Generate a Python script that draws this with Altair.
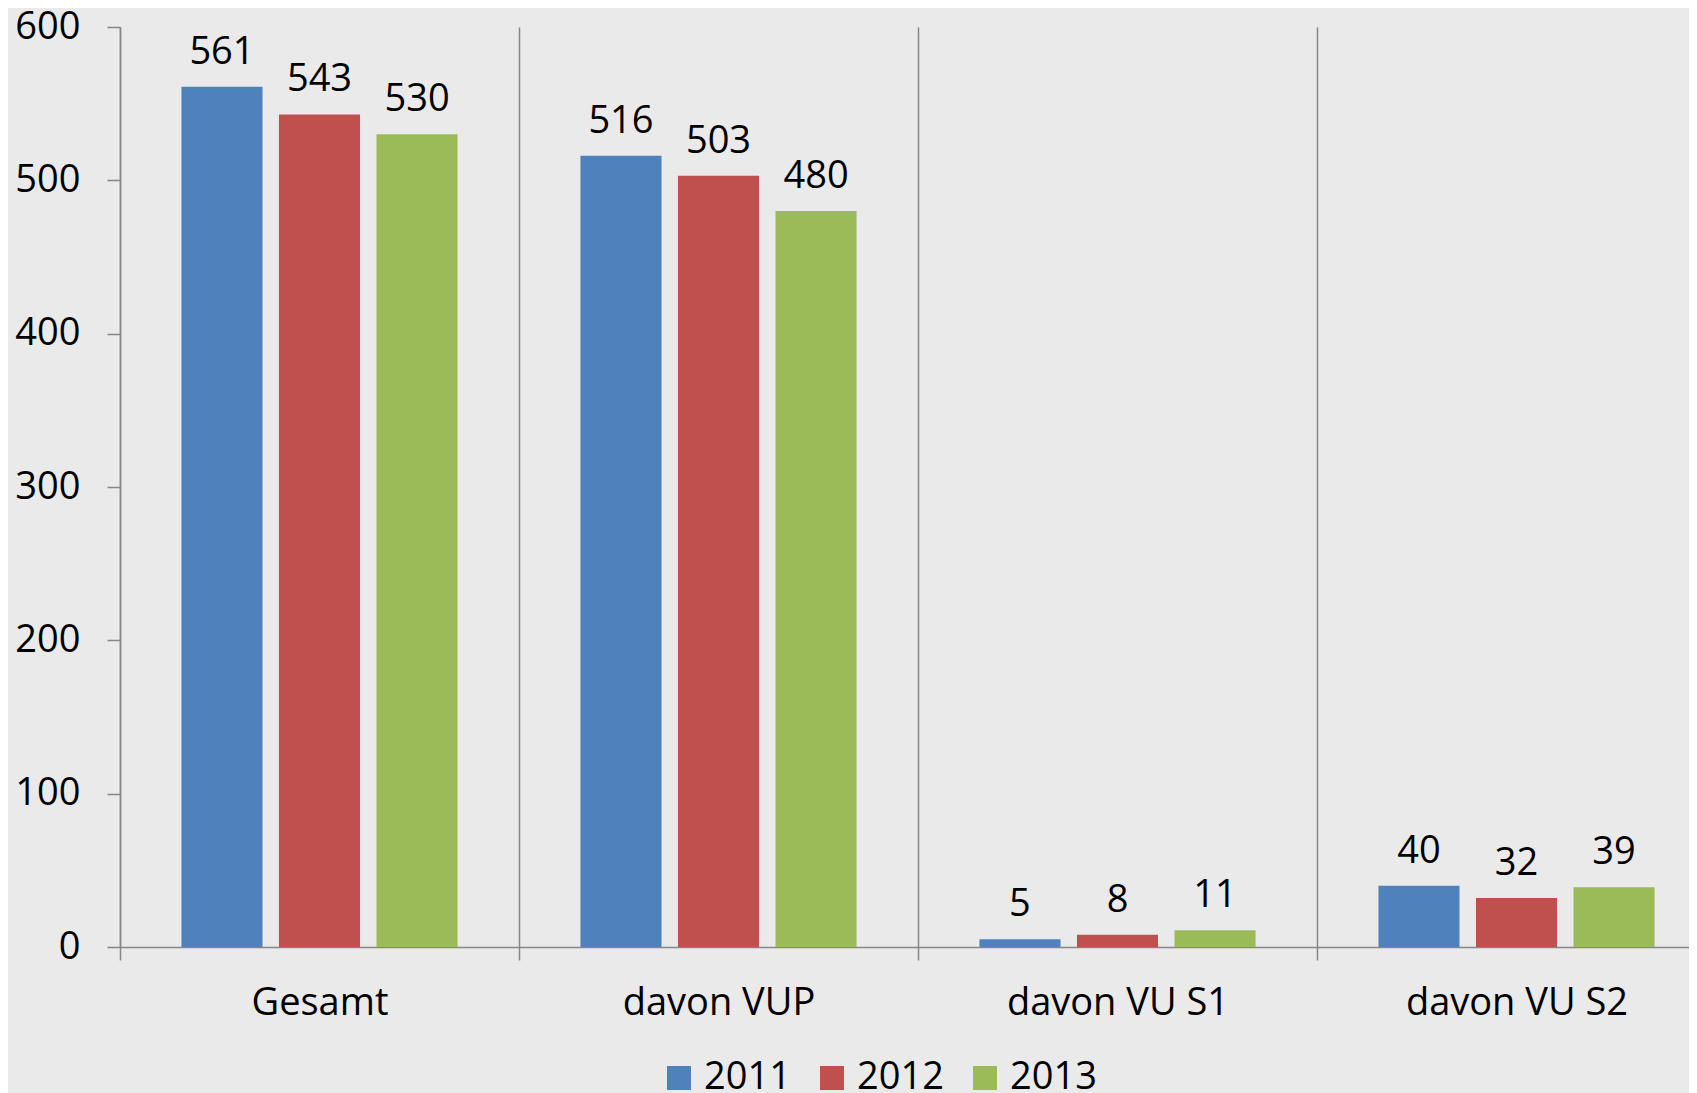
import altair as alt
import pandas as pd

categories = ["Gesamt", "davon VUP", "davon VU S1", "davon VU S2"]
years = ["2011", "2012", "2013"]
values_2011 = [561, 516, 5, 40]
values_2012 = [543, 503, 8, 32]
values_2013 = [530, 480, 11, 39]
colors = ["#4F81BD", "#C0504D", "#9BBB59"]

rows = []
for i, c in enumerate(categories):
    for y, vals in zip(years, [values_2011, values_2012, values_2013]):
        rows.append({"Kategorie": c, "Jahr": y, "Wert": vals[i]})
df = pd.DataFrame(rows)

FONT = "Open Sans"
FS = 38
GRAY = "#868686"

x_enc = alt.X(
    "Kategorie:N",
    sort=categories,
    scale=alt.Scale(paddingInner=0, paddingOuter=0, range=[0, 1596]),
    axis=alt.Axis(
        title=None, labelAngle=0, tickBand="extent", tickSize=13, tickColor=GRAY,
        tickWidth=1.5, grid=True, gridColor=GRAY, gridWidth=1.5, domainColor=GRAY,
        domainWidth=1.5, labelFont=FONT, labelFontSize=FS, labelColor="black",
        labelPadding=24, labelLimit=0,
    ),
)
xo_enc = alt.XOffset("Jahr:N", scale=alt.Scale(paddingInner=0.169, paddingOuter=0.63))
y_enc = alt.Y(
    "Wert:Q",
    scale=alt.Scale(domain=[0, 600], nice=False),
    axis=alt.Axis(
        title=None, values=[0, 100, 200, 300, 400, 500, 600], grid=False, tickSize=13,
        tickColor=GRAY, tickWidth=1.5, domainColor=GRAY, domainWidth=1.5,
        labelFont=FONT, labelFontSize=FS, labelColor="black", labelPadding=27,
    ),
)

bars = alt.Chart(df).mark_bar().encode(
    x=x_enc,
    xOffset=xo_enc,
    y=y_enc,
    color=alt.Color(
        "Jahr:N",
        scale=alt.Scale(domain=years, range=colors),
        legend=alt.Legend(
            title=None, orient="none", legendX=540, legendY=1032, direction="horizontal",
            symbolType="square", symbolSize=576, symbolStrokeWidth=0,
            labelFont=FONT, labelFontSize=FS, labelColor="black", labelOffset=6,
            columnPadding=22,
        ),
    ),
)

labels = alt.Chart(df).mark_text(
    font=FONT, fontSize=FS, color="black", baseline="alphabetic", dy=-23
).encode(
    x=alt.X("Kategorie:N", sort=categories),
    xOffset=alt.XOffset("Jahr:N"),
    y=alt.Y("Wert:Q"),
    text=alt.Text("Wert:Q"),
)

chart = (
    alt.layer(bars, labels)
    .properties(
        width=1569,
        height=920,
        autosize=alt.AutoSizeParams(type="none"),
        padding={"left": 112, "top": 19, "right": 0, "bottom": 146},
        background="#EAEAEA",
    )
    .configure_view(stroke=None)
)

chart.save("out.html", embed_options={"renderer": "svg", "actions": False})
